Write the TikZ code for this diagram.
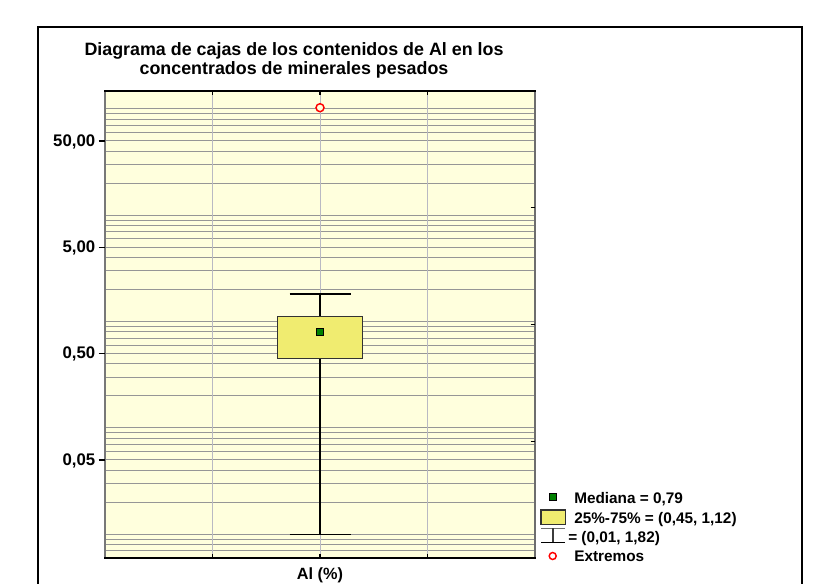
\documentclass[tikz,border=0pt]{standalone}
\usepackage{fontspec}
\setmainfont{Liberation Sans}
\usepackage{tikz}
\usetikzlibrary{positioning,calc}

\begin{document}
\begin{tikzpicture}[x=0.75pt,y=0.75pt,yscale=-1,xscale=1,
	hgrid/.style={color={rgb, 255:red, 150; green, 150; blue, 150 }, line width=0.75},
	vgrid/.style={color={rgb, 255:red, 185; green, 185; blue, 195 }, line width=0.75},
	axislbl/.style={font=\fontsize{12.6}{15}\selectfont\bfseries, inner sep=0pt, anchor=base east},
	legendlbl/.style={font=\fontsize{11.5}{14}\selectfont\bfseries, inner sep=0pt, anchor=base west},
	titlelbl/.style={font=\fontsize{13.4}{16}\selectfont\bfseries, inner sep=0pt, anchor=base},
	boxfill/.style={draw={rgb, 255:red, 50; green, 50; blue, 50 }, fill={rgb, 255:red, 240; green, 236; blue, 112 }, line width=1},
	medmark/.style={draw={rgb, 255:red, 0; green, 0; blue, 0 }, fill={rgb, 255:red, 0; green, 128; blue, 0 }, line width=0.9},
	extmark/.style={draw={rgb, 255:red, 255; green, 0; blue, 0 }, fill={rgb, 255:red, 255; green, 255; blue, 221 }, line width=1.1}]
	\useasboundingbox (0,0) rectangle (827,583);

	%Shape: Rectangle [outer frame]
	\draw [line width=1.3] (38,27) -- (802,27) -- (802,600) -- (38,600) -- cycle ;

	% Text Node
	\node [titlelbl] (title1) at (294,55) {Diagrama de cajas de los contenidos de Al en los};
	% Text Node
	\node [titlelbl] (title2) at (294,74.5) {concentrados de minerales pesados};

	%Shape: Rectangle [plot area]
	\fill [color={rgb, 255:red, 255; green, 255; blue, 221 }] (105,90.7) rectangle (535,558) ;

	%Straight Lines [log grid]
	\foreach \k in {-3,...,2}{
		\foreach \m in {1,...,9}{
			\pgfmathsetmacro{\gy}{321.6-106.33*(log10(\m)+\k)}
			\pgfmathparse{(\gy>91)&&(\gy<557)}
			\ifdim\pgfmathresult pt>0.5pt
				\draw [hgrid] (105,\gy) -- (535,\gy) ;
			\fi
		}
	}
	\foreach \gx in {212.5,320,427.5}{
		\draw [vgrid] (\gx,90.7) -- (\gx,558) ;
	}

	%Straight Lines [whisker]
	\draw [line width=1.2] (320,294.2) -- (320,534.5) ;
	\draw [line width=1.2] (289.5,294.2) -- (350.5,294.2) ;
	\draw [line width=1.2] (289.5,534.5) -- (350.5,534.5) ;
	%Shape: Rectangle [box]
	\draw [boxfill] (277.3,316.5) rectangle (362.7,358.3) ;
	%Shape: Square [median]
	\draw [medmark] (316.5,328.7) rectangle (323.5,335.7) ;
	%Shape: Circle [outlier]
	\draw [extmark] (320,107.7) circle (4) ;

	%Straight Lines [plot frame]
	\draw [color={rgb, 255:red, 120; green, 120; blue, 120 }, line width=1.5] (105,90.7) -- (105,558) ;
	\draw [color={rgb, 255:red, 110; green, 110; blue, 110 }, line width=1.2] (535,90.7) -- (535,558) ;
	\draw [line width=1.2] (104,90.7) -- (536,90.7) ;
	\draw [line width=1.2] (104,558) -- (536,558) ;
	\foreach \gx in {212.5,320,427.5}{
		\draw [line width=1] (\gx,90.7) -- (\gx,94.5) ;
		\draw [line width=1] (\gx,558) -- (\gx,554.2) ;
	}
	\foreach \ty in {207.7,324.5,441.3}{
		\draw [line width=1] (530.5,\ty) -- (535,\ty) ;
	}
	\foreach \ty in {141,247.3,353.6,460}{
		\draw [line width=1] (98.5,\ty) -- (105,\ty) ;
	}

	% Text Node
	\node [axislbl] (ylab50) at (95.5,146.3) {50,00};
	% Text Node
	\node [axislbl] (ylab5) at (95.5,252.6) {5,00};
	% Text Node
	\node [axislbl] (ylab05) at (95.5,358.9) {0,50};
	% Text Node
	\node [axislbl] (ylab005) at (95.5,465.3) {0,05};
	% Text Node
	\node [titlelbl, font=\fontsize{12.2}{15}\selectfont\bfseries] (xlab) at (320,579) {Al (\%)};

	%Legend
	\draw [medmark] (549.2,493.2) rectangle (556.2,500.2) ;
	% Text Node
	\node [legendlbl] (legmed) at (574,503.3) {Mediana = 0,79};
	\draw [boxfill] (541,510) rectangle (565.3,524.3) ;
	% Text Node
	\node [legendlbl] (legbox) at (574,523.3) {25\%-75\% = (0,45, 1,12)};
	\draw [color={rgb, 255:red, 110; green, 110; blue, 110 }, line width=1] (541,528.3) -- (565.3,528.3) ;
	\draw [color={rgb, 255:red, 60; green, 60; blue, 60 }, line width=1] (553,528.3) -- (553,542.7) ;
	\draw [line width=1] (541,542.7) -- (565.3,542.7) ;
	% Text Node
	\node [legendlbl] (legwhisk) at (568,542.7) {= (0,01, 1,82)};
	\draw [extmark, fill=white] (552.7,556) circle (3.5) ;
	% Text Node
	\node [legendlbl] (legext) at (574,561) {Extremos};
\end{tikzpicture}
\end{document}
